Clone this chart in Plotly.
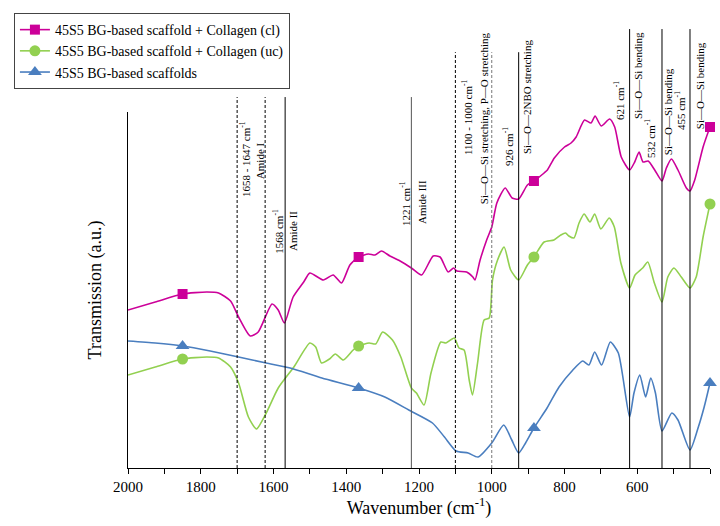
import numpy as np
import plotly.graph_objects as go

# ---------------- data ----------------
wn_cl = [2000, 1925, 1850, 1783, 1751, 1718, 1696, 1664, 1642, 1604, 1587, 1570, 1546, 1517, 1500,
         1463, 1436, 1413, 1390, 1366, 1339, 1321, 1303, 1280, 1252, 1221, 1193, 1161, 1142, 1120,
         1105, 1096, 1069, 1052, 1046, 1032, 1014, 1000, 986, 963, 944, 926, 902, 884, 856, 847,
         828, 800, 782, 768, 745, 727, 716, 699, 676, 662, 644, 621, 607, 595, 584, 570, 552, 532,
         520, 506, 488, 465, 455, 442, 419, 400]
t_cl = [158, 166, 174, 176, 175, 167, 151, 132, 136, 164, 158, 145, 171, 186, 195,
        188, 193, 185, 203, 211, 214, 213, 217, 212, 207, 200, 193, 212, 211, 196,
        200, 197, 196, 191, 188, 208, 228, 241, 265, 280, 270, 269, 283, 287, 295, 298,
        310, 321, 325, 331, 348, 345, 352, 342, 349, 341, 311, 298, 306, 316, 306, 307, 298, 287,
        300, 309, 298, 280, 277, 288, 321, 341]

wn_uc = [2000, 1925, 1850, 1783, 1751, 1718, 1696, 1669, 1647, 1620, 1587, 1544, 1500, 1484, 1468,
         1446, 1430, 1408, 1381, 1366, 1337, 1319, 1300, 1273, 1250, 1221, 1207, 1186, 1167, 1140,
         1126, 1103, 1090, 1076, 1062, 1053, 1039, 1021, 1007, 998, 984, 966, 948, 926, 902, 884,
         856, 829, 810, 797, 788, 774, 760, 746, 730, 717, 700, 677, 663, 645, 621, 606, 585, 571,
         553, 532, 516, 499, 479, 455, 438, 419, 400]
t_uc = [93, 101, 109, 111, 110, 101, 85, 51, 39, 55, 80, 101, 125, 121, 105,
        109, 114, 108, 118, 122, 125, 124, 136, 128, 111, 80, 75, 63, 95, 126,
        125, 130, 120, 118, 88, 73, 105, 148, 150, 188, 208, 221, 198, 188, 203, 211,
        226, 228, 233, 235, 232, 230, 245, 254, 246, 254, 239, 250, 241, 205, 180, 193, 200, 206,
        185, 166, 191, 200, 191, 180, 191, 231, 264]

wn_bg = [2000, 1925, 1850, 1774, 1696, 1620, 1554, 1467, 1366, 1294, 1228, 1163, 1130, 1098, 1065,
         1038, 1000, 967, 945, 926, 907, 884, 848, 815, 777, 750, 733, 717, 698, 674, 652, 621,
         609, 593, 577, 563, 550, 532, 505, 488, 455, 432, 416, 400]
t_bg = [127, 125, 122, 117, 111, 105, 100, 90, 80, 71, 58, 45, 31, 17, 15,
        11, 25, 43, 28, 15, 25, 40, 60, 81, 98, 107, 103, 116, 103, 126, 115, 51,
        75, 93, 71, 90, 75, 37, 55, 48, 18, 41, 61, 85]

series_names = ["45S5 BG-based scaffold + Collagen (cl)",
                "45S5 BG-based scaffold + Collagen (uc)",
                "45S5 BG-based scaffolds"]
marker_wn = [1850, 1366, 884, 400]

band_wn = [1700, 1623, 1568, 1221, 1100, 1000, 926, 621, 532, 455]

label_texts = ["1658 - 1647 cm<sup>-1</sup>", "Amide I", "1568 cm<sup>-1</sup>", "Amide II",
               "1221 cm<sup>-1</sup>", "Amide III", "1100 - 1000 cm<sup>-1</sup>",
               "Si\u2014O\u2014Si stretching, P\u2014O stretching", "926 cm<sup>-1</sup>",
               "Si\u2014O\u20142NBO stretching", "621 cm<sup>-1</sup>", "Si\u2014O\u2014Si bending",
               "532 cm<sup>-1</sup>", "Si\u2014O\u2014Si bending", "455 cm<sup>-1</sup>",
               "Si\u2014O\u2014Si bending"]
label_wn = [1678, 1637, 1588, 1546, 1238, 1192, 1068, 1021, 955, 903, 650, 598, 565, 515, 482, 427]

x_ticks = [2000, 1800, 1600, 1400, 1200, 1000, 800, 600, 400]

# ---------------- styles ----------------
FONT = "Liberation Serif"
colors = ["#CC0099", "#92D050", "#4A7EBF"]
symbols = ["square", "circle", "triangle-up"]
msizes = [10, 11, 12]
band_style = [("3px,2px", "#000"), ("3px,2px", "#000"), ("solid", "#000"), ("solid", "#555"),
              ("3px,2px", "#000"), ("3px,2px", "#777"), ("solid", "#000"),
              ("solid", "#000"), ("solid", "#000"), ("solid", "#000")]
band_top = [1.042, 1.042, 1.042, 1.042, 1.168, 1.168, 1.168, 1.233, 1.233, 1.233]
label_y = [0.868, 0.862, 0.666, 0.666, 0.742, 0.747, 0.986, 0.983, 0.902, 1.042,
           1.031, 1.104, 0.927, 1.0, 1.003, 1.073]

fig = go.Figure()
data = [(wn_cl, t_cl), (wn_uc, t_uc), (wn_bg, t_bg)]
for i, (wx, ty) in enumerate(data):
    fig.add_trace(go.Scatter(x=wx, y=ty, mode="lines", showlegend=False,
                             line=dict(color=colors[i], width=1.6, shape="spline", smoothing=0.6),
                             hoverinfo="skip"))
    xs = np.array(wx[::-1], dtype=float)
    ys = np.array(ty[::-1], dtype=float)
    my = np.interp(marker_wn, xs, ys)
    fig.add_trace(go.Scatter(x=marker_wn, y=my, mode="markers", showlegend=False, cliponaxis=False,
                             marker=dict(symbol=symbols[i], size=msizes[i], color=colors[i]),
                             hoverinfo="skip"))
for i in range(3):
    fig.add_trace(go.Scatter(x=[None], y=[None], mode="lines+markers", name=series_names[i],
                             line=dict(color=colors[i], width=1.6),
                             marker=dict(symbol=symbols[i], size=msizes[i], color=colors[i])))

for k, w in enumerate(band_wn):
    dash, col = band_style[k]
    fig.add_shape(type="line", xref="x", yref="paper", x0=w, x1=w, y0=0, y1=band_top[k],
                  line=dict(color=col, width=1, dash=dash))

for k, txt in enumerate(label_texts):
    fig.add_annotation(x=label_wn[k], y=label_y[k], xref="x", yref="paper", text=txt,
                       textangle=-90, showarrow=False, xanchor="center", yanchor="middle",
                       font=dict(family=FONT, size=11, color="#000"))

fig.update_layout(
    width=720, height=526,
    margin=dict(l=128, r=10, t=112, b=58),
    paper_bgcolor="white", plot_bgcolor="white",
    font=dict(family=FONT, color="#000"),
    legend=dict(x=-0.196, y=1.278, xanchor="left", yanchor="top",
                bordercolor="#444", borderwidth=1, bgcolor="white",
                font=dict(family=FONT, size=14), traceorder="normal"),
    xaxis=dict(range=[2000, 400], autorange=False, tickvals=x_ticks,
               ticks="outside", ticklen=5, tickcolor="#000", showline=True, linecolor="#000",
               linewidth=1, showgrid=False, zeroline=False,
               tickfont=dict(family=FONT, size=15),
               minor=dict(dtick=100, ticks="outside", ticklen=5, tickcolor="#000", showgrid=False),
               title=dict(text="Wavenumber (cm<sup>-1</sup>)", font=dict(family=FONT, size=18),
                          standoff=6)),
    yaxis=dict(range=[0, 356], autorange=False, showticklabels=False, ticks="",
               showline=True, linecolor="#000", linewidth=1, showgrid=False, zeroline=False,
               title=dict(text="Transmission (a.u.)", font=dict(family=FONT, size=18),
                          standoff=20)),
)

fig.write_html("out.html")
